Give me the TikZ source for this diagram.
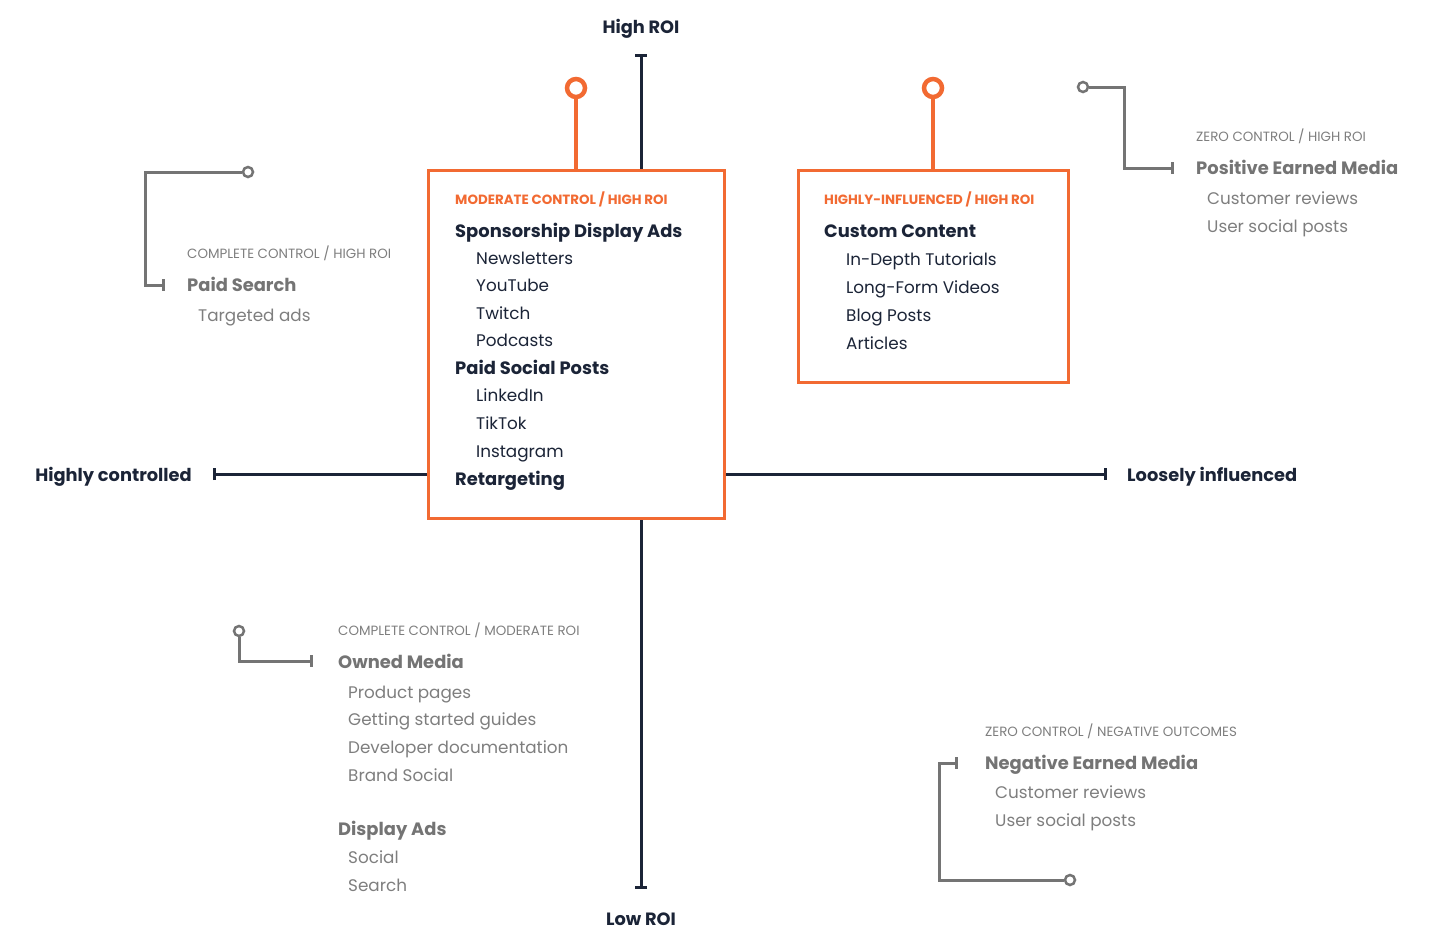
\documentclass[tikz,border=0pt]{standalone}
\usepackage{fontspec}
\setmainfont{Poppins}
\usetikzlibrary{arrows.meta,positioning}

\definecolor{brandorange}{HTML}{F26A32}
\definecolor{navy}{HTML}{1B2437}
\definecolor{leadgray}{HTML}{747474}
\definecolor{softgray}{HTML}{7E7E7E}

\tikzset{
  axis/.style={draw=navy, line width=3pt},
  quadbox/.style={draw=brandorange, line width=3pt, fill=white, inner sep=0pt, outer sep=0pt},
  pin/.style={draw=brandorange, line width=4.5pt},
  pinhead/.style={circle, draw=brandorange, line width=4.5pt, fill=white, inner sep=0pt, minimum size=18pt},
  lead/.style={draw=leadgray, line width=3pt},
  leadend/.style={circle, draw=leadgray, line width=2.5pt, fill=white, inner sep=0pt, minimum size=10pt},
  axislabel/.style={font=\bfseries\fontsize{17.8}{21}\selectfont, text=navy, inner sep=0pt},
  boxtag/.style={font=\bfseries\fontsize{13.4}{16}\selectfont, text=brandorange, inner sep=0pt, anchor=base west},
  boxhead/.style={font=\bfseries\fontsize{17.9}{21}\selectfont, text=navy, inner sep=0pt, anchor=base west},
  boxitem/.style={font=\fontsize{16.8}{20}\selectfont, text=navy, inner sep=0pt, anchor=base west},
  greytag/.style={font=\fontsize{13.4}{16}\selectfont, text=softgray, inner sep=0pt, anchor=base west},
  greyhead/.style={font=\bfseries\fontsize{17.9}{21}\selectfont, text=leadgray, inner sep=0pt, anchor=base west},
  greyitem/.style={font=\fontsize{16.8}{20}\selectfont, text=softgray, inner sep=0pt, anchor=base west},
}

\begin{document}
\begin{tikzpicture}[x=1pt, y=-1pt]
  \useasboundingbox (0,0) rectangle (1430,940);

  % axes
  \coordinate (roi-top) at (641,54);
  \coordinate (roi-bot) at (641,889);
  \coordinate (ctrl-left) at (213,474);
  \coordinate (ctrl-right) at (1107,474);
  \draw[axis, {Bar[width=12pt]}-{Bar[width=12pt]}] (roi-top) -- (roi-bot);
  \draw[axis, {Bar[width=12pt]}-{Bar[width=12pt]}] (ctrl-left) -- (ctrl-right);

  \node[axislabel, anchor=base] (high-roi) at (641,33) {High ROI};
  \node[axislabel, anchor=base] (low-roi) at (641,925) {Low ROI};
  \node[axislabel, anchor=base east] (high-ctrl) at (192,481) {Highly controlled};
  \node[axislabel, anchor=base west] (loose-infl) at (1127,481) {Loosely influenced};

  % moderate control box
  \node[quadbox, anchor=north west, minimum width=296pt, minimum height=348pt] (midbox) at (428,170) {};
  \node[pinhead] (midpin) at (576,88) {};
  \draw[pin] (midpin) -- (midpin |- midbox.north);

  \node[boxtag] (mid-tag) at (455,204.5) {MODERATE CONTROL / HIGH ROI};
  \node[boxhead] (spon-head) at (455,237) {Sponsorship Display Ads};
  \foreach \t [count=\i from 0] in {Newsletters,YouTube,Twitch,Podcasts}
    \node[boxitem] (spon-\i) at (476,{264+27.5*\i}) {\t};
  \node[boxhead] (social-head) at (455,374) {Paid Social Posts};
  \foreach \t [count=\i from 0] in {LinkedIn,TikTok,Instagram}
    \node[boxitem] (social-\i) at (476,{401+28*\i}) {\t};
  \node[boxhead] (retarget) at (455,485) {Retargeting};

  % highly influenced box
  \node[quadbox, anchor=north west, minimum width=270pt, minimum height=212pt] (hibox) at (798,170) {};
  \node[pinhead] (hipin) at (933,88) {};
  \draw[pin] (hipin) -- (hipin |- hibox.north);

  \node[boxtag] (hi-tag) at (824,204.5) {HIGHLY-INFLUENCED / HIGH ROI};
  \node[boxhead] (custom-head) at (824,237) {Custom Content};
  \foreach \t [count=\i from 0] in {In-Depth Tutorials,Long-Form Videos,Blog Posts,Articles}
    \node[boxitem] (custom-\i) at (846,{265+28*\i}) {\t};

  % positive earned media
  \node[leadend] (pos-dot) at (1083,87) {};
  \coordinate (pos-a) at (1124,87);
  \coordinate (pos-b) at (1124,168);
  \coordinate (pos-end) at (1174,168);
  \draw[lead, -{Bar[width=12pt]}] (pos-dot) -- (pos-a) -- (pos-b) -- (pos-end);
  \node[greytag] (pos-tag) at (1196,141.5) {ZERO CONTROL / HIGH ROI};
  \node[greyhead] (pos-head) at (1196,174) {Positive Earned Media};
  \node[greyitem] (pos-0) at (1207,204) {Customer reviews};
  \node[greyitem] (pos-1) at (1207,232) {User social posts};

  % paid search
  \node[leadend] (search-dot) at (248,172) {};
  \coordinate (search-a) at (145,172);
  \coordinate (search-b) at (145,285);
  \coordinate (search-end) at (165,285);
  \draw[lead, -{Bar[width=12pt]}] (search-dot) -- (search-a) -- (search-b) -- (search-end);
  \node[greytag] (search-tag) at (187,258.5) {COMPLETE CONTROL / HIGH ROI};
  \node[greyhead] (search-head) at (187,291) {Paid Search};
  \node[greyitem] (search-0) at (198,321) {Targeted ads};

  % owned media
  \node[leadend] (owned-dot) at (239,631) {};
  \coordinate (owned-a) at (239,661);
  \coordinate (owned-end) at (313,661);
  \draw[lead, -{Bar[width=12pt]}] (owned-dot) -- (owned-a) -- (owned-end);
  \node[greytag] (owned-tag) at (338,635.5) {COMPLETE CONTROL / MODERATE ROI};
  \node[greyhead] (owned-head) at (338,668) {Owned Media};
  \foreach \t [count=\i from 0] in {Product pages,Getting started guides,Developer documentation,Brand Social}
    \node[greyitem] (owned-\i) at (348,{698+27.7*\i}) {\t};
  \node[greyhead] (display-head) at (338,835) {Display Ads};
  \node[greyitem] (display-0) at (348,863) {Social};
  \node[greyitem] (display-1) at (348,891) {Search};

  % negative earned media
  \node[leadend] (neg-dot) at (1070,880) {};
  \coordinate (neg-a) at (939,880);
  \coordinate (neg-b) at (939,763);
  \coordinate (neg-end) at (958,763);
  \draw[lead, -{Bar[width=12pt]}] (neg-dot) -- (neg-a) -- (neg-b) -- (neg-end);
  \node[greytag] (neg-tag) at (985,736.5) {ZERO CONTROL / NEGATIVE OUTCOMES};
  \node[greyhead] (neg-head) at (985,769) {Negative Earned Media};
  \node[greyitem] (neg-0) at (995,798) {Customer reviews};
  \node[greyitem] (neg-1) at (995,826) {User social posts};
\end{tikzpicture}
\end{document}
